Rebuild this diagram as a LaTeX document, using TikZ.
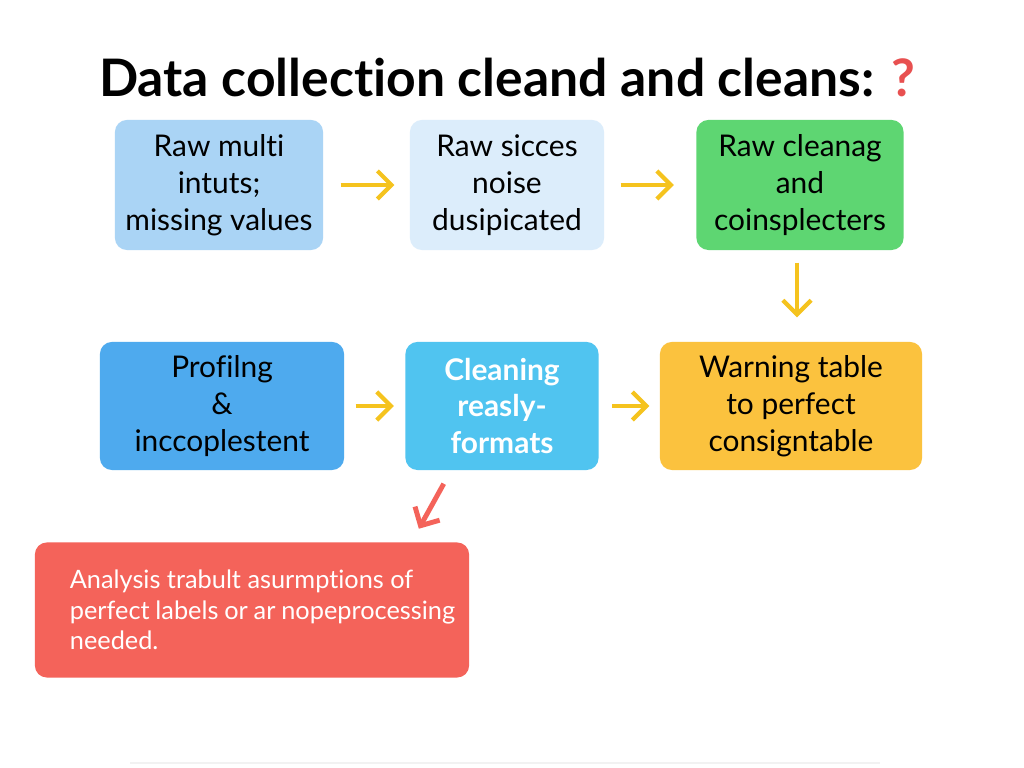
\documentclass[tikz,border=0pt]{standalone}
\usepackage{fontspec}
\setmainfont{Lato}[Ligatures=NoCommon]
\usepackage{tikz}
\usetikzlibrary{calc,arrows.meta,positioning}
\definecolor{rawBlue}{RGB}{170,212,245}
\definecolor{paleBlue}{RGB}{220,237,251}
\definecolor{cleanGreen}{RGB}{94,214,114}
\definecolor{profBlue}{RGB}{78,170,238}
\definecolor{cyanBlue}{RGB}{80,196,240}
\definecolor{warnOrange}{RGB}{251,194,62}
\definecolor{alertRed}{RGB}{244,99,90}
\definecolor{flowGold}{RGB}{245,195,30}
\definecolor{titleRed}{RGB}{232,80,80}

\begin{document}
\begin{tikzpicture}[x=0.01cm,y=-0.01cm,
  box/.style={rounded corners=0.12cm, align=center, inner sep=0pt, text=black,
    font=\fontsize{8.5}{10.5}\selectfont},
  flow/.style={flowGold, line width=1.2pt, -{Straight Barb[length=4pt,width=8pt,line width=1.2pt]}}]
\useasboundingbox (0,0) rectangle (1024,768);
\fill[white] (0,0) rectangle (1024,768);

\node[font=\fontsize{14.7}{17}\selectfont\bfseries] (title) at (507,78)
  {Data collection cleand and cleans: \textcolor{titleRed}{?}};

% first row
\node[box, fill=rawBlue, minimum width=2.08cm, minimum height=1.30cm] (raw) at (219,185)
  {Raw multi\\intuts;\\missing values};
\node[box, fill=paleBlue, minimum width=1.94cm, minimum height=1.30cm] (noise) at (507,185)
  {Raw sicces\\noise\\dusipicated};
\node[box, fill=cleanGreen, minimum width=2.07cm, minimum height=1.30cm] (cleanag) at (800,185)
  {Raw cleanag\\and\\coinsplecters};

% second row
\node[box, fill=profBlue, minimum width=2.44cm, minimum height=1.28cm] (prof) at (222,406)
  {Profilng\\\&\\inccoplestent};
\node[box, fill=cyanBlue, text=white, font=\fontsize{8.5}{10.5}\selectfont\bfseries,
  minimum width=1.93cm, minimum height=1.28cm] (clean) at (502,406)
  {Cleaning\\reasly-\\formats};
\node[box, fill=warnOrange, minimum width=2.62cm, minimum height=1.28cm] (warn) at (791,406)
  {Warning table\\to perfect\\consigntable};

% result
\node[box, fill=alertRed, text=white, minimum width=4.34cm, minimum height=1.35cm,
  font=\fontsize{7.2}{8.6}\selectfont] (result) at (252,610)
  {\hspace*{0.21cm}\parbox{3.85cm}{\raggedright Analysis trabult asurmptions of\\perfect labels or ar nopeprocessing\\needed.}};

\draw[flow, shorten <=4.8pt, shorten >=4.2pt] (raw) -- (noise);
\draw[flow, shorten <=4.5pt, shorten >=6.2pt] (noise) -- (cleanag);
\draw[flow, shorten <=3.4pt, shorten >=6.8pt] (cleanag.south -| 797,0) -- (warn.north -| 797,0);
\draw[flow, shorten <=3.1pt, shorten >=3.1pt] (prof) -- (clean);
\draw[flow, shorten <=3.7pt, shorten >=2.8pt] (clean) -- (warn);
\draw[alertRed, line width=1.4pt, -{Straight Barb[length=4pt,width=8pt,line width=1.4pt]}]
  ($(clean.south west)+(39,13)$) -- ($(result.north east)+(-51,-13)$);

\draw[gray!10, line width=0.6pt] (130,763) -- (880,763);
\end{tikzpicture}
\end{document}
